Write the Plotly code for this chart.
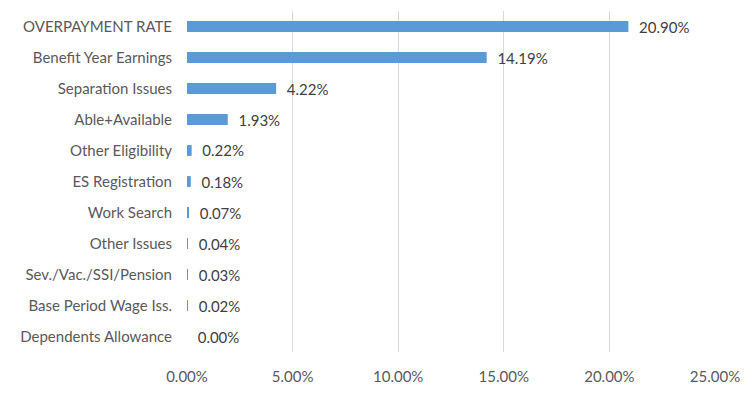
import plotly.graph_objects as go

categories = ["OVERPAYMENT RATE", "Benefit Year Earnings", "Separation Issues",
              "Able+Available", "Other Eligibility", "ES Registration", "Work Search",
              "Other Issues", "Sev./Vac./SSI/Pension", "Base Period Wage Iss.",
              "Dependents Allowance"]
values = [0.2090, 0.1419, 0.0422, 0.0193, 0.0022, 0.0018, 0.0007, 0.0004, 0.0003, 0.0002, 0.0000]
x_ticks = [0, 0.05, 0.10, 0.15, 0.20, 0.25]

fig = go.Figure(go.Bar(
    x=values, y=categories, orientation="h",
    marker=dict(color="#5B9BD5", line=dict(width=0)),
    width=0.35,
    texttemplate="\u00a0\u00a0%{x:.2%}", textposition="outside",
    textfont=dict(color="#404040", size=15, family="Lato"),
    constraintext="none",
    cliponaxis=False,
))

fig.update_layout(
    width=750, height=397,
    margin=dict(l=179, r=43, t=3, b=53, autoexpand=False),
    paper_bgcolor="white", plot_bgcolor="white",
    font=dict(family="Lato", size=15, color="#595959"),
    showlegend=False,
    xaxis=dict(range=[0, 0.25], tickvals=x_ticks, tickformat=".2%",
               showgrid=True, gridcolor="#D9D9D9", gridwidth=1,
               zeroline=False, showline=False, ticks="",
               ticklabelstandoff=14, automargin=False),
    yaxis=dict(autorange="reversed", showgrid=False, zeroline=False,
               showline=False, ticks="", ticklabelstandoff=14, automargin=False),
)

fig.write_html("out.html")
